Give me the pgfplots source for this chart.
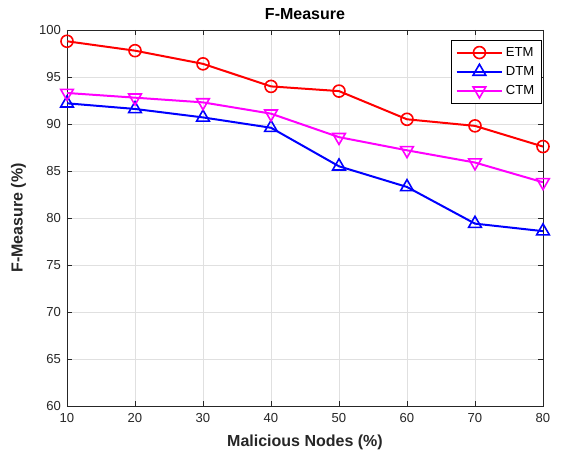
\documentclass[border=0pt]{standalone}
\usepackage{fontspec}
\setmainfont{Liberation Sans}
\usepackage{pgfplots}
\pgfplotsset{compat=1.18}
\definecolor{axgray}{rgb}{0.15,0.15,0.15}
\definecolor{mag}{rgb}{1,0,1}
\begin{document}
\begin{tikzpicture}
\begin{axis}[
  at={(0,0)}, anchor=south west,
  scale only axis,
  width=357pt, height=282pt,
  xmin=10, xmax=80, ymin=60, ymax=100,
  xtick={10,20,...,80}, ytick={60,65,...,100},
  grid=major,
  major grid style={draw=black!12, line width=0.4pt},
  axis line style={axgray, line width=0.5pt},
  tick style={axgray, line width=0.5pt},
  tick align=inside,
  major tick length=4pt,
  xtick pos=both, ytick pos=both,
  /pgf/number format/assume math mode=true,
  tick label style={font=\fontsize{9.8}{11}\selectfont, text=axgray},
  xticklabel style={yshift=-2pt},
  yticklabel style={xshift=-1pt},
  xlabel={\textbf{Malicious Nodes (\%)}},
  ylabel={\textbf{F-Measure (\%)}},
  label style={font=\fontsize{12}{14}\selectfont, text=axgray},
  title={\textbf{F-Measure}},
  title style={font=\fontsize{12}{14}\selectfont, text=black, yshift=-2pt},
  xlabel style={yshift=-2pt},
  ylabel style={yshift=3pt},
  legend style={at={(0.996,0.973)}, anchor=north east, draw=black,
    font=\fontsize{9.8}{12}\selectfont, row sep=2pt, inner xsep=3pt, inner ysep=3pt},
  legend cell align=left,
  legend image code/.code={\draw[mark repeat=2,mark phase=2] plot coordinates {(0cm,0cm) (0.6cm,0cm) (1.2cm,0cm)};},
  every axis plot/.append style={line width=1.5pt},
]
\addplot[color=red, mark=o, mark size=4.5pt, mark options={solid, line width=1.2pt}] coordinates {
(10,98.8) (20,97.8) (30,96.4) (40,94.0) (50,93.5) (60,90.5) (70,89.8) (80,87.6)};
\addlegendentry{ETM}
\addplot[color=blue, mark=triangle, mark size=5.5pt, mark options={solid, line width=1.2pt}] coordinates {
(10,92.2) (20,91.6) (30,90.7) (40,89.6) (50,85.5) (60,83.3) (70,79.4) (80,78.6)};
\addlegendentry{DTM}
\addplot[color=mag, mark=triangle, mark size=5.5pt, mark options={solid, line width=1.2pt, rotate=180}] coordinates {
(10,93.3) (20,92.8) (30,92.3) (40,91.1) (50,88.6) (60,87.2) (70,85.9) (80,83.8)};
\addlegendentry{CTM}
\end{axis}
\useasboundingbox (-50.25pt,-35.25pt) rectangle (372.75pt,304.5pt);
\end{tikzpicture}
\end{document}
